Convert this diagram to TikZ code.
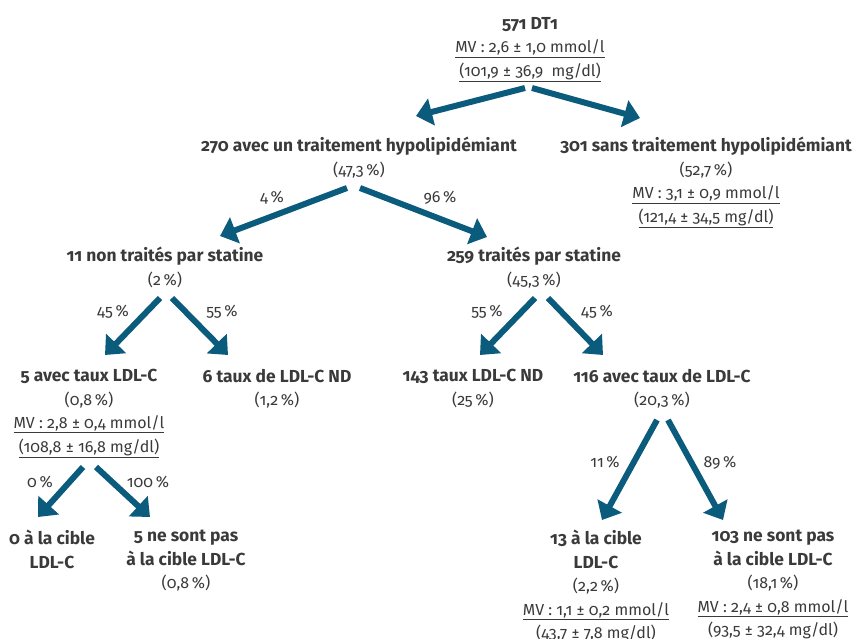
\documentclass[tikz,border=0pt]{standalone}
\usepackage{fontspec}
\setmainfont{Fira Sans}[Numbers=OldStyle]
\usepackage{xcolor}
\usetikzlibrary{arrows.meta}
\definecolor{petrol}{HTML}{0B5B7C}
\definecolor{texte}{HTML}{3A3A3A}
\newcommand{\titre}[1]{{\fontsize{17.4}{23.5}\selectfont\bfseries #1}}

\begin{document}
\begin{tikzpicture}[x=1pt, y=-1pt]
			\useasboundingbox (0,0) rectangle (855,639);
			
			\begin{scope}[every node/.style={anchor=north, inner sep=0pt, align=center, text=texte, font=\fontsize{16}{23.5}\selectfont}]
			\node (0) at (530,17) {\titre{571 DT1}\\\underline{MV : 2,6 ± 1,0 mmol/l}\\\underline{(101,9 ± 36,9\ \ mg/dl)}};
			\node (1) at (359,137) {\titre{270 avec un traitement hypolipidémiant}\\(47,3\,\%)};
			\node (2) at (706,137) {\titre{301 sans traitement hypolipidémiant}\\(52,7\,\%)\\\underline{MV : 3,1 ± 0,9 mmol/l}\\\underline{(121,4 ± 34,5 mg/dl)}};
			\node (3) at (165,247) {\titre{11 non traités par statine}\\(2\,\%)};
			\node (4) at (534,247) {\titre{259 traités par statine}\\(45,3\,\%)};
			\node (5) at (89,369) {\titre{5 avec taux LDL-C}\\(0,8\,\%)\\\underline{MV : 2,8 ± 0,4 mmol/l}\\\underline{(108,8 ± 16,8 mg/dl)}};
			\node (6) at (277,369) {\titre{6 taux de LDL-C ND}\\(1,2\,\%)};
			\node (7) at (473,369) {\titre{143 taux LDL-C ND}\\(25\,\%)};
			\node (8) at (662,369) {\titre{116 avec taux de LDL-C}\\(20,3\,\%)};
			\node (9) at (52,530) {\titre{0 à la cible}\\\titre{LDL-C}};
			\node (10) at (186,530) {\titre{5 ne sont pas}\\\titre{à la cible LDL-C}\\(0,8\,\%)};
			\node (11) at (596,530) {\titre{13 à la cible}\\\titre{LDL-C}\\(2,2\,\%)\\\underline{MV : 1,1 ± 0,2 mmol/l}\\\underline{(43,7 ± 7,8 mg/dl)}};
			\node (12) at (773,530) {\titre{103 ne sont pas}\\\titre{à la cible LDL-C}\\(18,1\,\%)\\\underline{MV : 2,4 ± 0,8 mmol/l}\\\underline{(93,5 ± 32,4 mg/dl)}};
			\end{scope}
			
			\begin{scope}[every node/.style={anchor=base, inner sep=0pt, text=texte, font=\fontsize{16}{23.5}\selectfont}]
			\node (p1) at (272,203) {4\,\%};
			\node (p2) at (440,203) {96\,\%};
			\node (p3) at (113,317) {45\,\%};
			\node (p4) at (222,317) {55\,\%};
			\node (p5) at (487,317) {55\,\%};
			\node (p6) at (597,317) {45\,\%};
			\node (p7) at (605,467) {11\,\%};
			\node (p8) at (720,467) {89\,\%};
			\node (p9) at (40,487) {0\,\%};
			\node (p10) at (148,487) {100\,\%};
			\end{scope}
			
			\coordinate (0l) at (525,88);
			\coordinate (0r) at (532,88);
			\coordinate (1l) at (347,188);
			\coordinate (1r) at (360,188);
			\coordinate (3l) at (160,298);
			\coordinate (3r) at (172,298);
			\coordinate (4l) at (535,298);
			\coordinate (4r) at (548,298);
			\coordinate (5l) at (83,467);
			\coordinate (5r) at (96,467);
			\coordinate (8l) at (657,420);
			\coordinate (8r) at (668,420);
			\coordinate (1t) at (416,116);
			\coordinate (2t) at (640,118);
			\coordinate (3t) at (220,236);
			\coordinate (4t) at (487,237);
			\coordinate (5t) at (105,355);
			\coordinate (6t) at (228,355);
			\coordinate (7t) at (480,355);
			\coordinate (8t) at (603,355);
			\coordinate (9t) at (38,517);
			\coordinate (10t) at (150,517);
			\coordinate (11t) at (602,520);
			\coordinate (12t) at (723,520);
			
			\begin{scope}[>={Triangle[length=16pt, width=27pt]},
			every edge/.style = {draw = petrol, line width = 6pt}]
			\path [->] 	(0l) edge (1t)
			(0r) edge (2t)
			(1l) edge (3t)
			(1r) edge (4t)
			(3l) edge (5t)
			(3r) edge (6t)
			(4l) edge (7t)
			(4r) edge (8t)
			(5l) edge (9t)
			(5r) edge (10t)
			(8l) edge (11t)
			(8r) edge (12t);
			\end{scope}
			
\end{tikzpicture}
\end{document}
